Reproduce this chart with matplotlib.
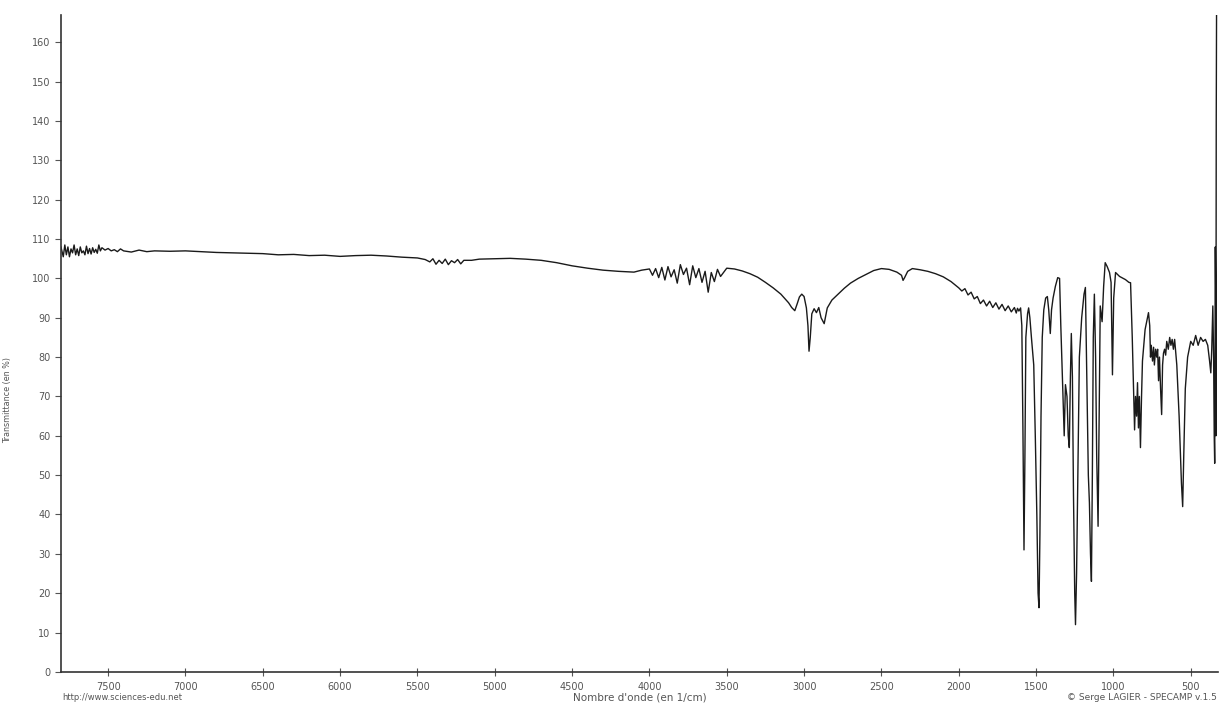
import matplotlib
matplotlib.use("Agg")
import matplotlib.pyplot as plt

# IR spectrum: (wavenumber in 1/cm, transmittance in %)
nir_region = [(7805, 108), (7790, 105.5), (7780, 108.5), (7770, 106), (7760, 108),
              (7750, 105.5), (7740, 107.5), (7730, 106.5), (7720, 108.5), (7710, 106),
              (7700, 107.5), (7690, 105.8), (7680, 108), (7670, 106.5), (7660, 107),
              (7650, 106), (7640, 108.2), (7630, 106.3), (7620, 107.6), (7610, 106.2),
              (7600, 107.8), (7590, 106.6), (7580, 107.4), (7570, 106.4), (7560, 108.5),
              (7550, 107), (7540, 107.8), (7520, 107.2), (7500, 107.6), (7480, 107),
              (7460, 107.3), (7440, 106.8), (7420, 107.5), (7400, 107), (7350, 106.7),
              (7300, 107.2), (7250, 106.8), (7200, 107), (7100, 106.9), (7000, 107),
              (6900, 106.8), (6800, 106.6), (6700, 106.5), (6600, 106.4), (6500, 106.3),
              (6400, 106), (6300, 106.1), (6200, 105.8), (6100, 105.9), (6000, 105.6),
              (5900, 105.8), (5800, 105.9), (5700, 105.7), (5600, 105.4), (5500, 105.2),
              (5450, 104.8), (5420, 104.2), (5400, 105), (5380, 103.6), (5360, 104.6),
              (5340, 103.8), (5320, 104.9), (5300, 103.5), (5280, 104.5), (5260, 104),
              (5240, 104.8), (5220, 103.7), (5200, 104.6), (5150, 104.6), (5100, 104.9),
              (5000, 105), (4900, 105.1), (4800, 104.9), (4700, 104.6), (4600, 104),
              (4500, 103.2), (4400, 102.6), (4300, 102.1), (4200, 101.8), (4100, 101.6)]

mid_region = [(4050, 102.1), (4000, 102.4), (3980, 100.8), (3960, 102.5), (3940, 100.2),
              (3920, 102.8), (3900, 99.6), (3880, 103), (3860, 100.4), (3840, 102.2),
              (3820, 98.8), (3800, 103.5), (3780, 101), (3760, 102.6), (3740, 98.4),
              (3720, 103.2), (3700, 100.2), (3680, 102.5), (3660, 99), (3640, 101.8),
              (3620, 96.5), (3600, 101.5), (3580, 99.2), (3560, 102.3), (3540, 100.5),
              (3500, 102.6), (3450, 102.4), (3400, 101.9), (3350, 101.2), (3300, 100.3),
              (3250, 99), (3200, 97.6), (3150, 96), (3100, 93.8), (3080, 92.6),
              (3060, 91.8), (3045, 93.5), (3030, 95.3), (3015, 96), (3000, 95.4),
              (2985, 92.5), (2975, 88), (2968, 81.5), (2960, 85), (2950, 91),
              (2935, 92.3), (2920, 91.3), (2905, 92.6), (2890, 90), (2870, 88.5),
              (2850, 92.5), (2820, 94.5), (2780, 96), (2740, 97.5), (2700, 98.8),
              (2650, 100), (2600, 101), (2550, 102), (2500, 102.5), (2450, 102.3),
              (2400, 101.6), (2370, 100.8), (2360, 99.5), (2350, 100.2), (2330, 101.8),
              (2300, 102.5), (2250, 102.2), (2200, 101.8), (2150, 101.2), (2100, 100.4),
              (2050, 99.2), (2000, 97.6), (1980, 96.8), (1960, 97.4), (1940, 95.8),
              (1920, 96.5), (1900, 94.8), (1880, 95.4), (1860, 93.6), (1840, 94.5),
              (1820, 93), (1800, 94.2), (1780, 92.6), (1760, 93.8), (1740, 92.2),
              (1720, 93.4), (1700, 91.8), (1680, 93), (1660, 91.5), (1640, 92.6),
              (1628, 91.2), (1620, 92.4)]

fingerprint = [(1611, 91.7), (1600, 92.5), (1592, 88), (1585, 62), (1578, 31),
               (1572, 55), (1566, 85), (1555, 91), (1548, 92.5), (1540, 90),
               (1530, 85), (1515, 78), (1505, 60), (1495, 40), (1487, 20),
               (1481, 16.3), (1475, 35), (1468, 65), (1460, 85), (1450, 92),
               (1438, 95), (1427, 95.4), (1418, 92), (1408, 86), (1400, 92),
               (1390, 95), (1375, 98), (1360, 100.2), (1348, 100), (1340, 88),
               (1330, 75), (1318, 60), (1310, 73), (1300, 70), (1292, 60),
               (1285, 57), (1278, 75), (1272, 86), (1265, 75), (1258, 45),
               (1250, 20), (1245, 12), (1238, 25), (1230, 50), (1220, 80),
               (1205, 90), (1190, 96), (1181, 97.7), (1172, 75), (1162, 50),
               (1155, 43), (1148, 30), (1142, 23), (1136, 50), (1130, 85),
               (1123, 96), (1115, 80), (1108, 55), (1099, 37), (1092, 65),
               (1085, 93), (1073, 89), (1063, 98), (1053, 104), (1040, 103),
               (1025, 101.5), (1015, 99), (1006, 75.5), (998, 95), (986, 101.5),
               (960, 100.5), (922, 99.7), (900, 99), (889, 98.9), (878, 85),
               (863, 61.5), (857, 70), (850, 65), (844, 73.5), (838, 62),
               (832, 70), (825, 57), (818, 70), (812, 79), (795, 87),
               (773, 91.3), (765, 88), (760, 80), (755, 83), (747, 79),
               (740, 82.5), (735, 78), (727, 82), (720, 80), (714, 82),
               (708, 74), (702, 80), (695, 72), (688, 65.4), (682, 78),
               (676, 81), (669, 82), (662, 80.5), (655, 84), (645, 82),
               (636, 85), (628, 83), (620, 84.5), (612, 82), (604, 84.5),
               (590, 78), (575, 65), (560, 48), (552, 42), (545, 55),
               (535, 72), (520, 80), (500, 84), (484, 83), (468, 85.5),
               (452, 83), (436, 85), (420, 84), (405, 84.5), (390, 83),
               (378, 79), (370, 76), (364, 82), (357, 93), (352, 80),
               (348, 60), (345, 53), (343, 75), (341, 108), (339, 98),
               (337, 60), (335, 140), (333, 167)]

wavenumber = [p[0] for p in nir_region + mid_region + fingerprint]
transmittance = [p[1] for p in nir_region + mid_region + fingerprint]

fig = plt.figure(figsize=(12.19, 7.05), dpi=100)
ax = fig.add_axes([0.050, 0.047, 0.949, 0.932])
ax.plot(wavenumber, transmittance, color="#1a1a1a", lw=1.0)

ax.set_xlim(7805, 325)
ax.set_ylim(0, 167)
ax.set_xticks([7500, 7000, 6500, 6000, 5500, 5000, 4500, 4000, 3500, 3000,
               2500, 2000, 1500, 1000, 500])
ax.set_yticks(range(0, 161, 10))
ax.tick_params(labelsize=7, colors="#555555", length=4, width=0.8)
ax.tick_params(axis="x", direction="inout", length=6, pad=4)
for s in ["top", "right"]:
    ax.spines[s].set_visible(False)
for s in ["left", "bottom"]:
    ax.spines[s].set_color("#333333")
    ax.spines[s].set_linewidth(1.2)

ax.set_ylabel("Transmittance (en %)", fontsize=5.8, color="#555555")
ax.yaxis.set_label_coords(-0.042, 0.414)
fig.text(0.525, 0.004, "Nombre d'onde (en 1/cm)", fontsize=7.5, color="#555555",
         ha="center", va="bottom")
fig.text(0.051, 0.004, "http://www.sciences-edu.net", fontsize=6, color="#555555",
         ha="left", va="bottom")
fig.text(0.998, 0.004, "\u00a9 Serge LAGIER - SPECAMP v.1.5", fontsize=6.5,
         color="#555555", ha="right", va="bottom")

fig.savefig("out.png", dpi=100)
